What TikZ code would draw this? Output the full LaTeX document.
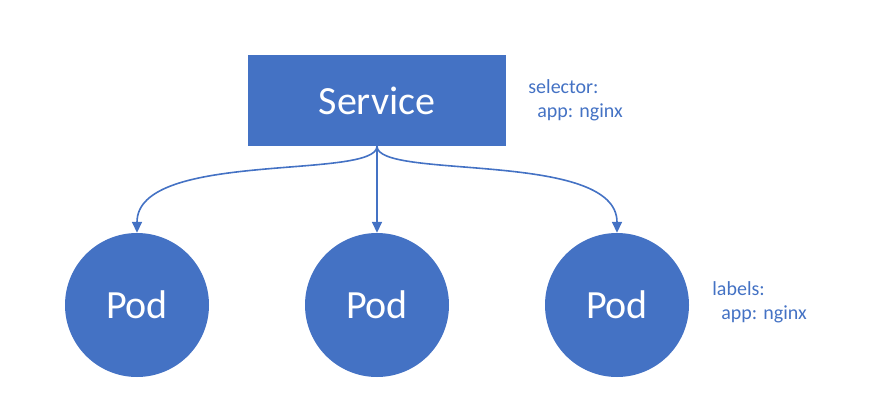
\documentclass[tikz,border=0pt]{standalone}
\usepackage{fontspec}
\setmainfont{Carlito}
\usetikzlibrary{arrows.meta,positioning}
\definecolor{svcblue}{HTML}{4472C4}
\tikzset{
    >={Triangle[width=10pt,length=11pt]},
    svcbox/.style={
        rectangle,
        fill=svcblue,
        text=white,
        minimum width=258pt,
        minimum height=91pt,
        font=\fontsize{40}{48}\selectfont
    },
    pod/.style={
        circle,
        fill=svcblue,
        text=white,
        inner sep=0pt,
        minimum size=144pt,
        font=\fontsize{40}{48}\selectfont
    },
    note/.style={
        text=svcblue,
        align=left,
        inner sep=0pt,
        font=\fontsize{20}{24}\selectfont
    },
    link/.style={->, draw=svcblue, line width=1.6pt}
}

\begin{document}
\begin{tikzpicture}[x=1pt, y=-1pt]
\useasboundingbox (0,0) rectangle (878,420);

\node[svcbox] (svc) at (377,100.5) {Service};

\node[pod] (podl) at (137,305) {Pod};
\node[pod] (podm) at (377,305) {Pod};
\node[pod] (podr) at (617,305) {Pod};

\node[note, anchor=west, right=22pt of svc] (sel) {selector:\\\hspace*{9pt}app: nginx};
\node[note, anchor=west, right=23pt of podr, yshift=3pt] (lab) {labels:\\\hspace*{9pt}app: nginx};

\draw[link] (svc.south) .. controls +(0,34) and +(0,-83) .. (podl.north);
\draw[link] (svc.south) -- (podm.north);
\draw[link] (svc.south) .. controls +(0,34) and +(0,-83) .. (podr.north);

\end{tikzpicture}
\end{document}
